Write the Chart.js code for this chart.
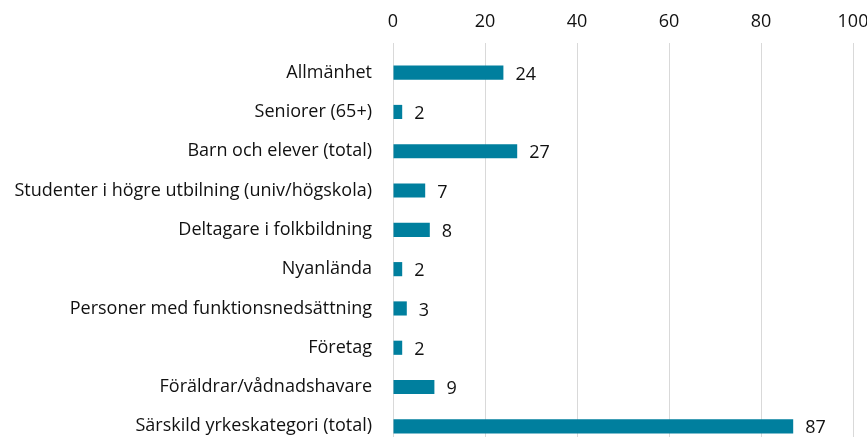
<!DOCTYPE html>
<html>
<head>
<meta charset="utf-8">
<script src="https://cdn.jsdelivr.net/npm/chart.js@4/dist/chart.umd.min.js"></script>
<style>
html,body{margin:0;padding:0;background:#fff;overflow:hidden;}
</style>
</head>
<body>
<canvas id="c" width="867" height="446" style="display:block;width:867px;height:446px;"></canvas>
<script>
const categories = [
  "Allmänhet",
  "Seniorer (65+)",
  "Barn och elever (total)",
  "Studenter i högre utbilning (univ/högskola)",
  "Deltagare i folkbildning",
  "Nyanlända",
  "Personer med funktionsnedsättning",
  "Företag",
  "Föräldrar/vådnadshavare",
  "Särskild yrkeskategori (total)"
];
const values = [24, 2, 27, 7, 8, 2, 3, 2, 9, 87];
const xTicks = [0, 20, 40, 60, 80, 100];

const FONT = "'Open Sans', Lato, sans-serif";

const valueLabels = {
  id: 'valueLabels',
  afterDatasetsDraw(chart) {
    const ctx = chart.ctx;
    const meta = chart.getDatasetMeta(0);
    ctx.save();
    ctx.font = "18px " + FONT;
    ctx.fillStyle = "#111";
    ctx.textAlign = "left";
    ctx.textBaseline = "middle";
    meta.data.forEach((bar, i) => {
      ctx.fillText(String(values[i]), bar.x + 12, bar.y + 2);
    });
    ctx.restore();
  }
};

new Chart(document.getElementById('c'), {
  type: 'bar',
  data: {
    labels: categories,
    datasets: [{
      data: values,
      backgroundColor: '#007f9e',
      barPercentage: 0.36,
      categoryPercentage: 1.0
    }]
  },
  options: {
    indexAxis: 'y',
    responsive: false,
    animation: false,
    layout: { padding: { left: 0, right: 14, top: 0, bottom: 0 } },
    plugins: { legend: { display: false }, tooltip: { enabled: false } },
    scales: {
      x: {
        position: 'top',
        min: 0, max: 100,
        afterBuildTicks: s => { s.ticks = xTicks.map(v => ({ value: v })); },
        afterFit: s => { s.paddingLeft = 0; s.paddingRight = 0; s.height = 53; },
        grid: { color: '#d9d9d9', lineWidth: 1, tickLength: 10, drawTicks: true },
        border: { display: false },
        ticks: { font: { size: 18, family: FONT }, color: '#111', padding: 10 }
      },
      y: {
        afterFit: s => { s.width = 393; s.paddingTop = 0; s.paddingBottom = 0; },
        grid: { display: false, drawTicks: false },
        border: { display: false },
        ticks: { font: { size: 18, family: FONT }, color: '#111', padding: 21 }
      }
    }
  },
  plugins: [valueLabels]
});
</script>
</body>
</html>
